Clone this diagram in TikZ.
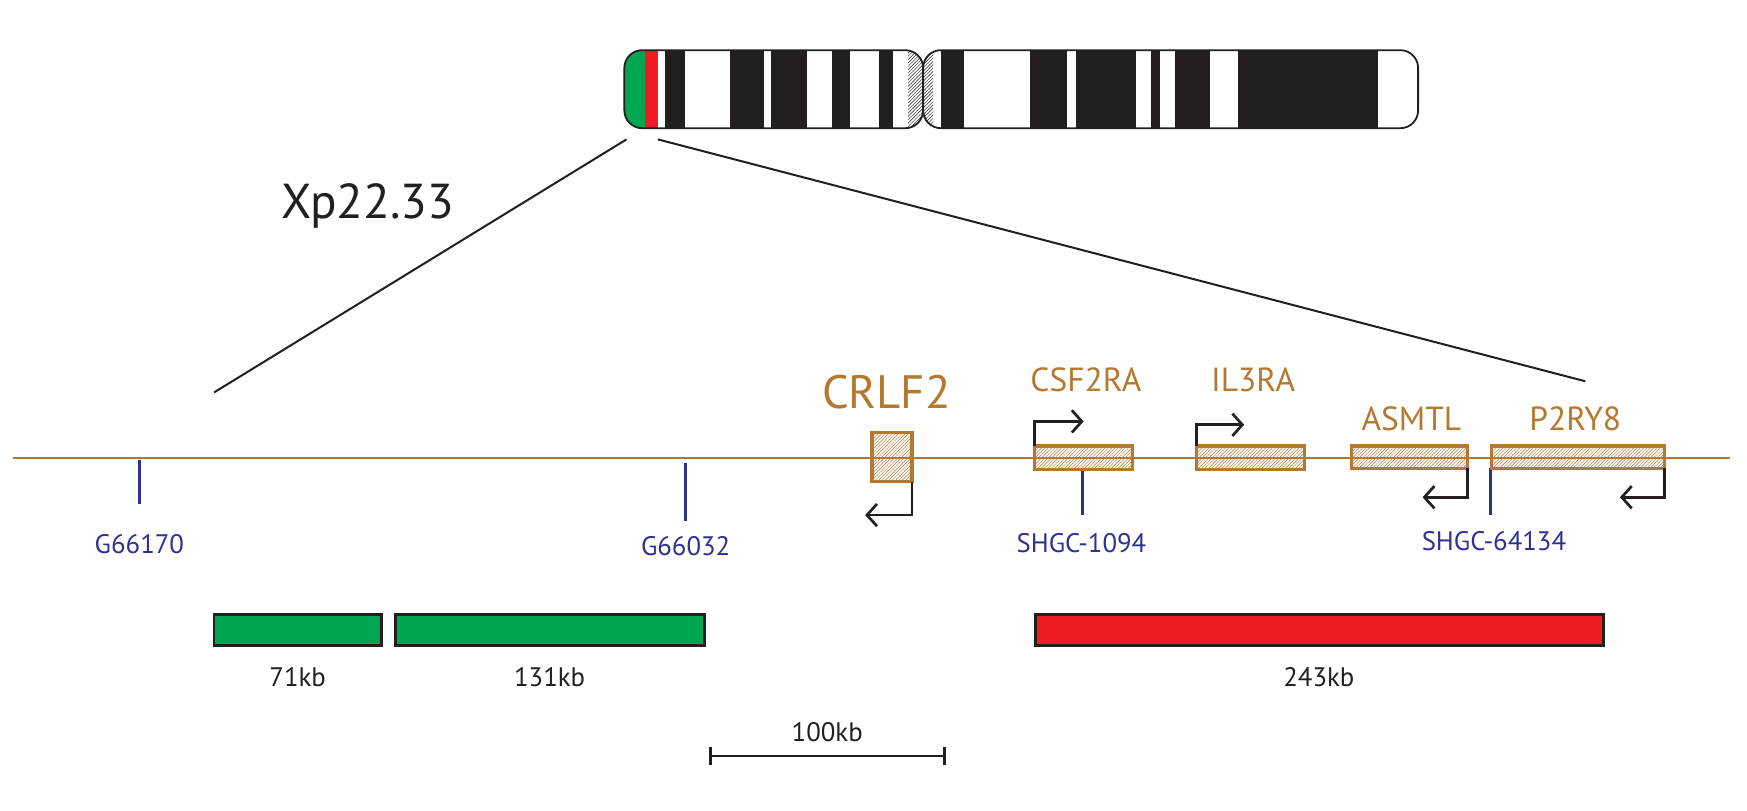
\documentclass[tikz,border=0pt]{standalone}
\usepackage{fontspec}
\setmainfont{PT Sans}
\usetikzlibrary{patterns,arrows.meta}
\definecolor{gene}{HTML}{B5782F}
\definecolor{mk}{HTML}{2E3192}
\definecolor{gr}{HTML}{00A651}
\definecolor{rd}{HTML}{ED1C24}
\definecolor{bk}{HTML}{231F20}
\begin{document}
\begin{tikzpicture}[x=1pt,y=-1pt,
  glab/.style={text=gene,font=\fontsize{30}{30}\selectfont,inner sep=0},
  mlab/.style={text=mk,font=\fontsize{24}{24}\selectfont,inner sep=0},
  klab/.style={text=bk,font=\fontsize{24}{24}\selectfont,inner sep=0},
  genebox/.style={draw=gene,line width=3pt,pattern=north east lines,pattern color=gene},
  tss/.style={draw=bk,line width=2.4pt,-{Straight Barb[length=9pt,width=20pt,line width=2.4pt]}},
  mtick/.style={draw=mk,line width=2.4pt},
  bar/.style={draw=bk,line width=2.4pt}]
\useasboundingbox (0,0) rectangle (1567,727);
% chromosome left arm
\begin{scope}
\clip[rounded corners=16pt] (560,45) rectangle (828,115);
\fill[white] (560,45) rectangle (828,115);
\fill[gr] (560,45) rectangle (578.5,115);
\fill[rd] (578.5,45) rectangle (589.8,115);
\foreach \a/\b in {596.4/614.4,654.7/685.2,691.5/723.5,746.5/762.3,788.6/801.2}
  \fill[bk] (\a,45) rectangle (\b,115);
\fill[pattern=north east lines,pattern color=bk] (814.6,45) rectangle (828,115);
\end{scope}
\draw[bk,line width=1.6pt,rounded corners=16pt] (560,45) rectangle (828,115);
% right arm
\begin{scope}
\clip[rounded corners=16pt] (828,45) rectangle (1272,115);
\fill[white] (828,45) rectangle (1272,115);
\fill[pattern=north east lines,pattern color=bk] (828,45) rectangle (837,115);
\foreach \a/\b in {843.7/864.6,923.8/957.5,965/1018.8,1032.3/1040.4,1053.8/1085.2,1110.5/1236}
  \fill[bk] (\a,45) rectangle (\b,115);
\end{scope}
\draw[bk,line width=1.6pt,rounded corners=16pt] (828,45) rectangle (1272,115);
\coordinate (cl) at (562,125);
\coordinate (cr) at (590,125);
\coordinate (el) at (192,352);
\coordinate (er) at (1422,342);
\draw[bk,line width=1.8pt] (cl) -- (el);
\draw[bk,line width=1.8pt] (cr) -- (er);
\node[text=bk,font=\fontsize{44}{44}\selectfont,inner sep=0] (xp) at (330,185) {Xp22.33};
% gene line
\coordinate (g0) at (12,411);
\coordinate (g1) at (1552,411);
\draw[gene,line width=2pt] (g0) -- (g1);
% markers
\draw[mtick] (125,413) -- (125,452);
\node[mlab] (m1) at (125,488) {G66170};
\draw[mtick] (615,415) -- (615,467);
\node[mlab] (m2) at (615,490) {G66032};
\draw[mtick] (971,421) -- (971,462);
\node[mlab] (m3) at (970,487) {SHGC-1094};
\draw[mtick] (1337,420) -- (1337,462);
\node[mlab] (m4) at (1340,485) {SHGC-64134};
% genes
\draw[genebox] (782,388) rectangle (818,432);
\node[glab,font=\fontsize{42}{42}\selectfont] (crlf) at (795,352) {CRLF2};
\draw[tss] (818,432) -- (818,462) -- (776,462);
\draw[genebox] (928,400) rectangle (1016,421);
\node[glab] (csf) at (974,341) {CSF2RA};
\draw[tss] (928,400) -- (928,378) -- (972,378);
\draw[genebox] (1073,400) rectangle (1170,421);
\node[glab] (il) at (1124,341) {IL3RA};
\draw[tss] (1073,400) -- (1073,381) -- (1116,381);
\draw[genebox] (1212,400) rectangle (1316,420);
\node[glab] (as) at (1266,376) {ASMTL};
\draw[tss] (1316,420) -- (1316,446) -- (1276,446);
\draw[genebox] (1338,400) rectangle (1493,420);
\node[glab] (p2) at (1413,376) {P2RY8};
\draw[tss] (1493,420) -- (1493,446) -- (1453,446);
% probes
\draw[bar,fill=gr] (192,551) rectangle (342,579);
\draw[bar,fill=gr] (355,551) rectangle (632,579);
\draw[bar,fill=rd] (929,551) rectangle (1438,579);
\node[klab] (k1) at (267,607) {71kb};
\node[klab] (k2) at (493,607) {131kb};
\node[klab] (k3) at (1183,607) {243kb};
% scale
\draw[bar] (637,678) -- (847,678);
\draw[bar] (637,670) -- (637,686);
\draw[bar] (847,670) -- (847,686);
\node[klab] (sc) at (742,657) {100kb};
\end{tikzpicture}
\end{document}
